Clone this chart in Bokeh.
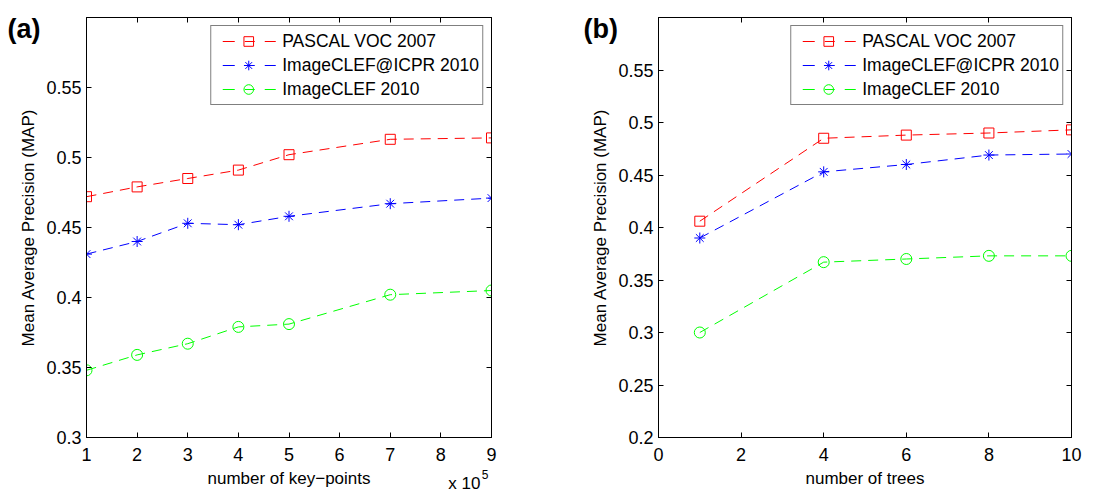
import numpy as np
from bokeh.plotting import figure
from bokeh.layouts import row
from bokeh.models import LinearAxis, FixedTicker, Legend, LegendItem, Title, Range1d
from bokeh.embed import file_html
from bokeh.resources import INLINE

# ---------------- data ----------------
series_names = ["PASCAL VOC 2007", "ImageCLEF@ICPR 2010", "ImageCLEF 2010"]
series_colors = ["#ff0000", "#0000ff", "#00ff00"]
series_markers = ["square", "asterisk", "circle"]

# panel (a): number of key-points (x 10^5)
a_x = [1, 2, 3, 4, 5, 7, 9]
a_pascal = [0.472, 0.479, 0.485, 0.491, 0.502, 0.513, 0.514]
a_icpr = [0.431, 0.440, 0.453, 0.452, 0.458, 0.467, 0.471]
a_clef = [0.348, 0.359, 0.367, 0.379, 0.381, 0.402, 0.405]
a_xticks = [1, 2, 3, 4, 5, 6, 7, 8, 9]
a_yticks = [0.3, 0.35, 0.4, 0.45, 0.5, 0.55]
a_ytick_labels = ["0.3", "0.35", "0.4", "0.45", "0.5", "0.55"]

# panel (b): number of trees
b_x = [1, 4, 6, 8, 10]
b_pascal = [0.406, 0.485, 0.488, 0.490, 0.493]
b_icpr = [0.390, 0.453, 0.460, 0.469, 0.470]
b_clef = [0.300, 0.367, 0.370, 0.373, 0.373]
b_xticks = [0, 2, 4, 6, 8, 10]
b_yticks = [0.2, 0.25, 0.3, 0.35, 0.4, 0.45, 0.5, 0.55]
b_ytick_labels = ["0.2", "0.25", "0.3", "0.35", "0.4", "0.45", "0.5", "0.55"]

FONT = "Liberation Sans"


def style_axis(ax, labels=True):
    ax.major_tick_in = 5
    ax.major_tick_out = 0
    ax.minor_tick_line_color = None
    ax.axis_line_color = "black"
    ax.major_tick_line_color = "black"
    ax.major_label_text_font = FONT
    ax.axis_label_text_font = FONT
    ax.axis_label_text_font_style = "normal"
    ax.axis_label_text_font_size = "17px"
    ax.axis_label_text_color = "black"
    if labels:
        ax.major_label_text_font_size = "18px"
        ax.major_label_text_color = "black"
    else:
        ax.major_label_text_font_size = "1px"
        ax.major_label_text_color = None
        ax.major_label_standoff = 0


def make_panel(xs, ys_list, xr, yr, xticks, yticks, ytick_labels, xlabel,
               width, borders, tag, tag_dx):
    left, right, top, bottom = borders
    p = figure(width=width, height=493, x_range=Range1d(*xr), y_range=Range1d(*yr),
               output_backend="svg", toolbar_location=None,
               min_border_left=left, min_border_right=right,
               min_border_top=top, min_border_bottom=bottom)
    p.background_fill_color = "white"
    p.border_fill_color = "white"
    p.outline_line_color = "black"
    p.xgrid.grid_line_color = None
    p.ygrid.grid_line_color = None

    p.xaxis.ticker = FixedTicker(ticks=xticks, minor_ticks=[])
    p.yaxis.ticker = FixedTicker(ticks=yticks, minor_ticks=[])
    p.yaxis.major_label_overrides = {t: l for t, l in zip(yticks, ytick_labels)}
    p.xaxis.axis_label = xlabel
    p.yaxis.axis_label = "Mean Average Precision (MAP)"
    style_axis(p.xaxis[0])
    style_axis(p.yaxis[0])
    p.xaxis.major_label_standoff = 10
    p.yaxis.major_label_standoff = 5
    p.xaxis.axis_label_standoff = 5
    p.yaxis.axis_label_standoff = 5

    top_ax = LinearAxis(ticker=FixedTicker(ticks=xticks, minor_ticks=[]))
    right_ax = LinearAxis(ticker=FixedTicker(ticks=yticks, minor_ticks=[]))
    style_axis(top_ax, labels=False)
    style_axis(right_ax, labels=False)
    p.add_layout(top_ax, "above")
    p.add_layout(right_ax, "right")

    items = []
    for name, ys, c, m in zip(series_names, ys_list, series_colors, series_markers):
        p.line(xs, ys, line_color=c, line_dash="10 7", line_width=1)
        size = 10 if m == "square" else 11
        sc = p.scatter(xs, ys, marker=m, size=size, fill_color=None,
                       line_color=c, line_width=1)
        # legend-only line sample "- (marker) -" (NaN data: draws nothing in the plot)
        dummy = p.line(x=np.array([np.nan]), y=np.array([np.nan]), line_color=c,
                       line_width=1, line_dash="0 8 12 10 10 10 11 60")
        items.append(LegendItem(label=name, renderers=[dummy, sc]))

    legend = Legend(items=items, location="top_right", margin=8, padding=3,
                    spacing=0, glyph_width=68, glyph_height=24, label_height=24,
                    label_standoff=0, label_text_font=FONT,
                    label_text_font_size="17.5px", label_text_color="black",
                    border_line_color="black", border_line_width=1,
                    background_fill_color="white", background_fill_alpha=1)
    p.add_layout(legend)

    # panel tag "(a)" / "(b)" as the figure title, pulled left and down
    p.title.text = tag
    p.title.align = "left"
    p.title.vertical_align = "bottom"
    p.title.offset = tag_dx
    p.title.standoff = -52
    p.title.text_font = FONT
    p.title.text_font_size = "27px"
    p.title.text_font_style = "bold"
    p.title.text_color = "black"
    return p


pa = make_panel(a_x, [a_pascal, a_icpr, a_clef], (1, 9), (0.3, 0.6),
                a_xticks, a_yticks, a_ytick_labels, "number of key\u2212points",
                560, (86, 69, 17, 56), "(a)", -79)
pa.add_layout(Title(text="x 10", align="right", vertical_align="top", offset=11,
                    standoff=-33, text_font=FONT, text_font_size="17px",
                    text_font_style="normal", text_color="black"), "below")
pa.add_layout(Title(text="5", align="right", vertical_align="top", offset=3,
                    standoff=-41, text_font=FONT, text_font_size="12px",
                    text_font_style="normal", text_color="black"), "below")

pb = make_panel(b_x, [b_pascal, b_icpr, b_clef], (0, 10), (0.2, 0.6),
                b_xticks, b_yticks, b_ytick_labels, "number of trees",
                550, (98, 39, 16, 56), "(b)", -75)

layout = row(pa, pb)
open("out.html", "w").write(file_html(layout, INLINE))
